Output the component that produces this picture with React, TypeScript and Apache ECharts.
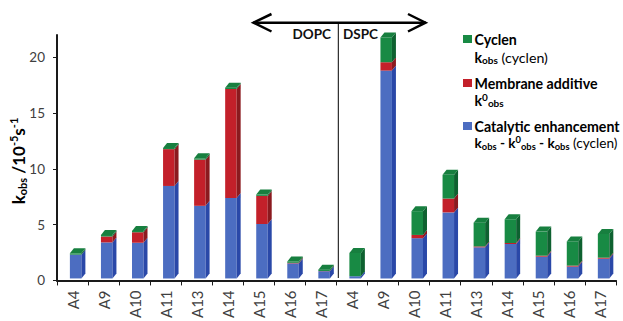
import React, { useEffect, useRef } from "react";
import * as echarts from "echarts";

const categories = ["A4", "A9", "A10", "A11", "A13", "A14", "A15", "A16", "A17", "A4", "A9", "A10", "A11", "A13", "A14", "A15", "A16", "A17"];

// DOPC group (first 9) then DSPC group (last 9)
const catalytic = [2.13, 3.23, 3.2, 8.29, 6.51, 7.22, 4.88, 1.35, 0.65, 0.2, 18.63, 3.61, 5.92, 2.79, 3.08, 1.95, 1.06, 1.77];
const membrane = [0, 0.53, 0.94, 3.3, 4.14, 9.76, 2.52, 0.05, 0.02, 0, 0.75, 0.29, 1.24, 0.08, 0.09, 0.09, 0.09, 0.09];
const cyclen = [0.12, 0.14, 0.12, 0.1, 0.12, 0.12, 0.12, 0.12, 0.12, 2.08, 2.22, 2.13, 2.13, 2.13, 2.13, 2.16, 2.17, 2.13];

const yTicks = [0, 5, 10, 15, 20];

const FONT = "Lato";

function makeRender(front: string, side: string, top: string, isTop: boolean) {
  return (params: any, api: any) => {
    const idx = api.value(0);
    const lo = api.value(1);
    const hi = api.value(2);
    const c0 = api.coord([idx, lo]);
    const c1 = api.coord([idx, hi]);
    const bw = api.size([1, 0])[0];
    const w = bw * 0.37;
    const xl = c0[0] - bw * 0.085;
    const yb = c0[1] - 2;
    const yt = c1[1] - 2;
    const DX = 4;
    const DY = 5;
    const children: any[] = [];
    if (yb - yt > 0.01) {
      children.push({
        type: "rect",
        shape: { x: xl, y: yt, width: w, height: yb - yt },
        style: { fill: front },
      });
      children.push({
        type: "polygon",
        shape: { points: [[xl + w, yb], [xl + w + DX, yb - DY], [xl + w + DX, yt - DY], [xl + w, yt]] },
        style: { fill: side },
      });
    }
    if (isTop) {
      children.push({
        type: "polygon",
        shape: { points: [[xl, yt], [xl + w, yt], [xl + w + DX, yt - DY], [xl + DX, yt - DY]] },
        style: { fill: top },
      });
    }
    return { type: "group", children };
  };
}

export default function App() {
  const ref = useRef<HTMLDivElement>(null);
  useEffect(() => {
    if (!ref.current) return;
    const chart = echarts.init(ref.current, undefined, { renderer: "svg" });

    const blueData = categories.map((_, i) => [i, 0, catalytic[i]]);
    const redData = categories.map((_, i) => [i, catalytic[i], catalytic[i] + membrane[i]]);
    const greenData = categories.map((_, i) => [i, catalytic[i] + membrane[i], catalytic[i] + membrane[i] + cyclen[i]]);

    const bold = { fontFamily: FONT, fontWeight: "bold" as const, fontSize: 14.2, color: "#111", lineHeight: 16 };
    const boldSub = { fontFamily: FONT, fontWeight: "bold" as const, fontSize: 10, color: "#111", lineHeight: 8, verticalAlign: "bottom" as const };
    const boldSup = { fontFamily: FONT, fontWeight: "bold" as const, fontSize: 10, color: "#111", lineHeight: 8, verticalAlign: "top" as const };
    const reg = { fontFamily: FONT, fontWeight: "normal" as const, fontSize: 14.2, color: "#111", lineHeight: 16 };
    const legendRich = { b: bold, s: boldSub, p: boldSup, r: reg };
    const tightRich = {
      b: { ...bold, fontSize: 13.6 },
      s: { ...boldSub, fontSize: 9.4 },
      p: { ...boldSup, fontSize: 9.4 },
      r: { ...reg, fontSize: 13.6 },
    };

    const legendX = 474.5;
    const sq = (y: number, color: string) => ({
      type: "rect",
      shape: { x: 463, y: y - 4, width: 9, height: 8 },
      style: { fill: color },
    });
    const txt = (y: number, text: string, rich: any = legendRich) => ({
      type: "text",
      x: legendX,
      y,
      style: { text, rich, align: "left", verticalAlign: "middle", fontFamily: FONT },
    });

    chart.setOption({
      animation: false,
      backgroundColor: "#ffffff",
      grid: { left: 57, right: 7, top: 35, bottom: 38, containLabel: false },
      xAxis: {
        type: "category",
        data: categories,
        boundaryGap: true,
        axisLine: { show: true, lineStyle: { color: "#1a1a1a", width: 2 } },
        axisTick: { show: true, length: 5, alignWithLabel: false, interval: 0, lineStyle: { color: "#1a1a1a", width: 1 } },
        axisLabel: { rotate: 90, interval: 0, fontSize: 15, fontFamily: FONT, color: "#404040", margin: 10 },
        splitLine: { show: false },
      },
      yAxis: {
        type: "value",
        min: 0,
        max: 22,
        interval: 5,
        axisLine: { show: true, lineStyle: { color: "#1a1a1a", width: 2 } },
        axisTick: { show: true, length: 4, customValues: yTicks, lineStyle: { color: "#1a1a1a", width: 1 } },
        axisLabel: { customValues: yTicks, fontSize: 13.5, fontFamily: FONT, color: "#404040", margin: 12 },
        splitLine: { show: false },
      },
      series: [
        {
          type: "custom",
          name: "Catalytic enhancement",
          renderItem: makeRender("#4c6dc1", "#2a48a8", "#4c6dc1", false),
          data: blueData,
          encode: { x: 0, y: [1, 2] },
          clip: false,
        },
        {
          type: "custom",
          name: "Membrane additive",
          renderItem: makeRender("#c3202a", "#8b1a1f", "#c3202a", false),
          data: redData,
          encode: { x: 0, y: [1, 2] },
          clip: false,
        },
        {
          type: "custom",
          name: "Cyclen",
          renderItem: makeRender("#188a44", "#0e6130", "#177f3f", true),
          data: greenData,
          encode: { x: 0, y: [1, 2] },
          clip: false,
        },
      ],
      graphic: [
        {
          type: "text",
          x: 18,
          y: 161,
          rotation: Math.PI / 2,
          style: {
            text: "{b|k}{s|obs}{b| /10}{p|-5}{b|s}{p|-1}",
            rich: {
              b: { ...bold, fontSize: 17, lineHeight: 20, color: "#222" },
              s: { ...boldSub, fontSize: 11, lineHeight: 10, color: "#222" },
              p: { ...boldSup, fontSize: 11, lineHeight: 10, color: "#222" },
            },
            align: "center",
            verticalAlign: "middle",
          },
        },
        // DOPC / DSPC arrow
        { type: "line", shape: { x1: 253, y1: 22.7, x2: 426, y2: 22.7 }, style: { stroke: "#000", lineWidth: 2.5 } },
        { type: "polyline", shape: { points: [[271.5, 14], [253.5, 22.7], [271.5, 31.5]] }, style: { stroke: "#000", lineWidth: 2.5, fill: "none" } },
        { type: "polyline", shape: { points: [[408, 14], [425.5, 22.7], [408, 31.5]] }, style: { stroke: "#000", lineWidth: 2.5, fill: "none" } },
        { type: "line", shape: { x1: 338.3, y1: 22.7, x2: 338.3, y2: 278 }, style: { stroke: "#000", lineWidth: 1 } },
        { type: "text", x: 331, y: 33.5, style: { text: "DOPC", fontFamily: FONT, fontWeight: "bold", fontSize: 13.5, fill: "#111", align: "right", verticalAlign: "middle" } },
        { type: "text", x: 343, y: 33.5, style: { text: "DSPC", fontFamily: FONT, fontWeight: "bold", fontSize: 13.5, fill: "#111", align: "left", verticalAlign: "middle" } },
        // legend
        sq(39, "#188a44"),
        txt(39, "{b|Cyclen}"),
        txt(57, "{b|k}{s|obs}{r| (cyclen)}"),
        sq(83, "#c3202a"),
        txt(83, "{b|Membrane additive}"),
        txt(100, "{b|k}{p|0}{s|obs}"),
        sq(126, "#4c6dc1"),
        txt(126, "{b|Catalytic enhancement}"),
        txt(143, "{b|k}{s|obs}{b| - k}{p|0}{s|obs}{b| - k}{s|obs}{r| (cyclen)}", tightRich),
      ],
    });
    return () => chart.dispose();
  }, []);
  return <div ref={ref} style={{ width: 623, height: 321, position: "absolute", left: 0, top: 0 }} />;
}
